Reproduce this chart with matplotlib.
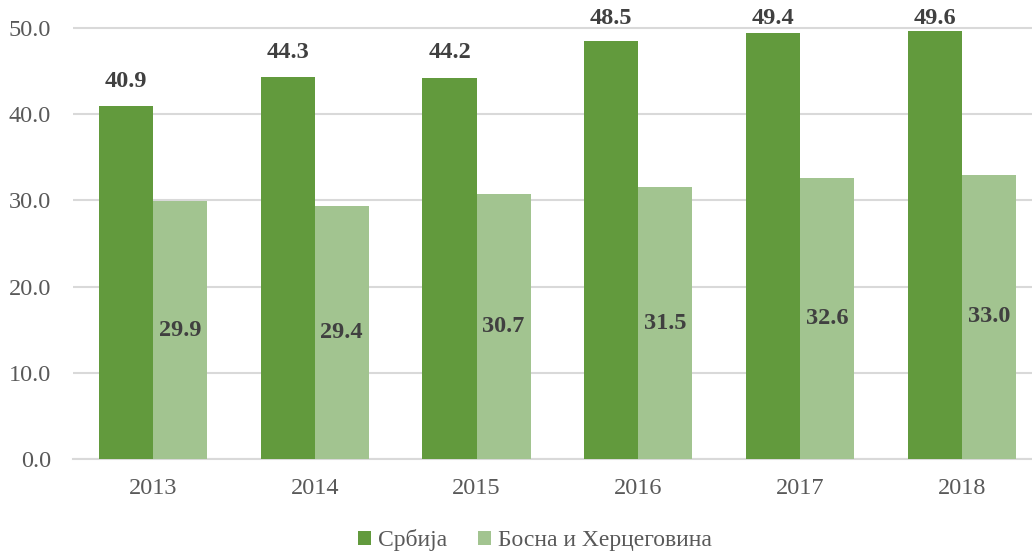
import matplotlib
matplotlib.use("Agg")
import matplotlib.pyplot as plt
import numpy as np

years = ["2013", "2014", "2015", "2016", "2017", "2018"]
serbia = [40.9, 44.3, 44.2, 48.5, 49.4, 49.6]
bih = [29.9, 29.4, 30.7, 31.5, 32.6, 33.0]
series_names = ["Србија", "Босна и Херцеговина"]

c_dark = "#629A3D"
c_light = "#A2C490"

plt.rcParams['font.family'] = ['Liberation Serif', 'DejaVu Serif']

fig = plt.figure(figsize=(10.32, 5.54), dpi=100)
ax = fig.add_axes([73/1032, (554-459)/554, (1032-73)/1032, 431/554*52/50])

x = np.arange(len(years))
w = 0.334
b1 = ax.bar(x - w/2, serbia, w, color=c_dark, label=series_names[0], zorder=3)
b2 = ax.bar(x + w/2, bih, w, color=c_light, label=series_names[1], zorder=3)

ax.set_xlim(-0.494, 5.433)
ax.set_ylim(0, 52)
ax.set_yticks([0, 10, 20, 30, 40, 50])
ax.set_yticklabels([f"{v:.1f}" for v in [0, 10, 20, 30, 40, 50]])
ax.set_xticks(x)
ax.set_xticklabels(years)
ax.yaxis.grid(True, color="#D9D9D9", linewidth=1.5, zorder=0)
ax.set_axisbelow(True)
for s in ["top", "right", "left"]:
    ax.spines[s].set_visible(False)
ax.spines["bottom"].set_color("#D9D9D9")
ax.spines["bottom"].set_linewidth(1.5)
ax.tick_params(axis="both", length=0, labelsize=17.5, colors="#595959")
ax.tick_params(axis="y", pad=16)
ax.tick_params(axis="x", pad=14)

px_per_unit = 431/50
for xi, v in zip(x, serbia):
    ty = min(v + 25/px_per_unit, (459-18)/px_per_unit)
    ax.text(xi - w/2, ty, f"{v:.1f}", ha="center", va="center", fontsize=17.5,
            fontweight="bold", color="#404040", clip_on=False)
for xi, v in zip(x, bih):
    ax.text(xi + w/2, v/2, f"{v:.1f}", ha="center", va="center", fontsize=17.5,
            fontweight="bold", color="#404040")

leg = fig.legend(handles=[b1, b2], labels=series_names, loc="center",
                 bbox_to_anchor=(535/1032, 1-540/554), ncol=2, frameon=False,
                 fontsize=17, handlelength=0.55, handleheight=0.55,
                 handletextpad=0.3, columnspacing=1.3)
for t in leg.get_texts():
    t.set_color("#595959")

fig.savefig("out.png", dpi=100)
